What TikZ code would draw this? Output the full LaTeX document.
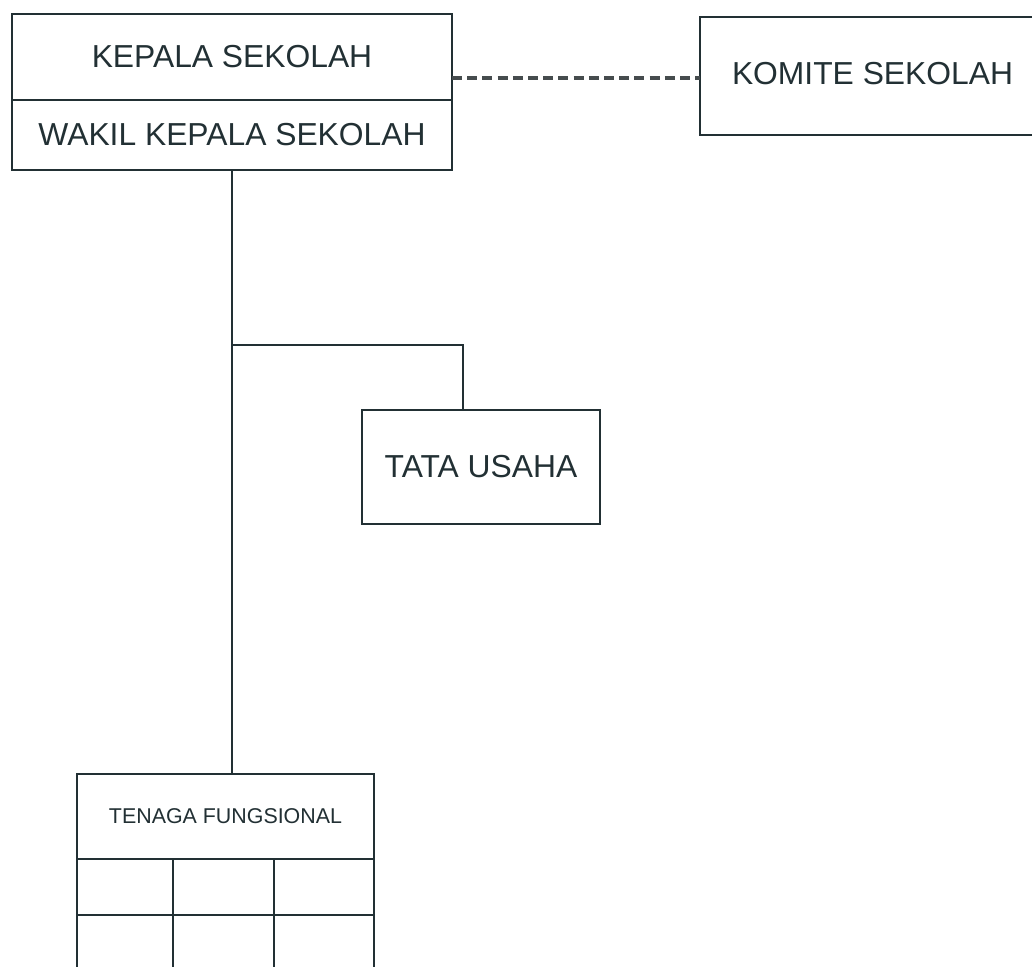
\documentclass[tikz,border=0pt]{standalone}
\usepackage{fontspec}
\setmainfont{Liberation Sans}
\definecolor{ink}{RGB}{34,48,52}
\definecolor{dashc}{RGB}{70,76,78}
\begin{document}
\begin{tikzpicture}[x=0.5pt,y=-0.5pt,
 box/.style={draw=ink, line width=1.4pt, inner sep=0pt, outer sep=0pt, font=\fontsize{15.9}{19}\selectfont, text=ink, align=center},
 conn/.style={draw=ink, line width=1.4pt},
 dashline/.style={draw=dashc, line width=2pt, dash pattern=on 5pt off 2.6pt},
 gridline/.style={draw=ink, line width=1.4pt}]
\useasboundingbox (0,0) rectangle (1032,966);
\fill[white] (0,0) rectangle (1032,966);
\clip (0,0) rectangle (1032,966);
\node[box, minimum width=220pt, minimum height=43pt] (kepala) at (232,57) {KEPALA SEKOLAH};
\node[box, minimum width=220pt, minimum height=35pt] (wakil) at (232,135) {WAKIL KEPALA SEKOLAH};
\node[box, minimum width=172.5pt, minimum height=59pt] (komite) at (872.5,76) {\raisebox{3pt}{KOMITE SEKOLAH}};
\node[box, minimum width=119pt, minimum height=57pt] (tata) at (481,467) {TATA USAHA};
\node[box, minimum width=148.5pt, minimum height=42.5pt, font=\fontsize{10.7}{13}\selectfont] (tenaga) at (225.5,816.5) {TENAGA FUNGSIONAL};
% grid under TENAGA FUNGSIONAL
\draw[gridline] (tenaga.south west) -- ++(0,120);
\draw[gridline] (tenaga.south east) -- ++(0,120);
\draw[gridline] (173,859) -- (173,980);
\draw[gridline] (274,859) -- (274,980);
\draw[gridline] (77,915) -- (374,915);
% connectors
\coordinate (jn) at (232,345);
\draw[conn] (wakil.south) -- (wakil.south |- tenaga.north);
\draw[conn] (jn) -| ([xshift=-9pt]tata.north);
\draw[dashline] (kepala.east |- 0,78) -- (komite.west |- 0,78);
\end{tikzpicture}
\end{document}
